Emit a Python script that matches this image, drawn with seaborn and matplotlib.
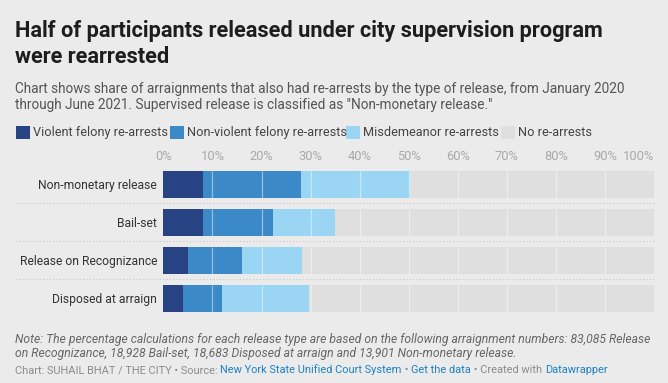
import matplotlib
matplotlib.use("Agg")
import matplotlib.pyplot as plt
from matplotlib.patches import Rectangle
import numpy as np
import pandas as pd
import seaborn as sns

categories = ["Non-monetary release", "Bail-set", "Release on Recognizance", "Disposed at arraign"]
violent = [8.1, 8.1, 5.0, 4.0]
nonviolent = [20.0, 14.3, 11.1, 8.0]
misdemeanor = [22.2, 12.6, 12.2, 17.7]
no_rearrest = [49.7, 65.0, 71.7, 70.3]
series_names = ["Violent felony re-arrests", "Non-violent felony re-arrests",
                "Misdemeanor re-arrests", "No re-arrests"]
colors = ["#274384", "#3b89c7", "#9ad6f3", "#dfdfdf"]
xticks = [0, 10, 20, 30, 40, 50, 60, 70, 80, 90, 100]
xtick_labels = [f"{t}%" for t in xticks]

BG = "#ebebeb"
W, H = 668, 383
sns.set_theme(style="white")
plt.rcParams["font.family"] = ["Roboto", "DejaVu Sans"]

fig = plt.figure(figsize=(W / 100, H / 100), dpi=100, facecolor=BG)

def fx(px):
    return px / W

def fy(py):
    return 1 - py / H

ax = fig.add_axes([fx(163.3), fy(317.5), fx(654.3) - fx(163.3), (317.5 - 165.3) / H])
ax.set_facecolor(BG)

df = pd.DataFrame({"cat": categories, "v": violent, "nv": nonviolent, "m": misdemeanor, "n": no_rearrest})
cums = np.cumsum(df[["v", "nv", "m", "n"]].values, axis=1)
for k in range(3, -1, -1):
    sns.barplot(x=cums[:, k], y=df["cat"], color=colors[k], width=0.71, orient="h",
                ax=ax, saturation=1, linewidth=0, zorder=2)

# faint gridlines over bars
for i in range(len(categories)):
    ax.vlines(xticks[1:-1], i - 0.355, i + 0.355, color="white", alpha=0.45, lw=0.9, zorder=3)
# dotted separators
for i in range(len(categories) - 1):
    ax.plot([-30, 100], [i + 0.5, i + 0.5], ls=(0, (1, 2)), color="#c8c8c8", lw=0.8,
            clip_on=False, zorder=1)

ax.set_xlim(0, 100)
ax.set_ylim(3.5, -0.5)
ax.set_xticks(xticks)
ax.set_xticklabels(xtick_labels)
ax.xaxis.tick_top()
ax.tick_params(axis="x", length=0, pad=2, labelsize=9.3, labelcolor="#a9a9a9")
ax.tick_params(axis="y", length=0, pad=4.5, labelsize=8.7, labelcolor="#333333")
ax.get_xticklabels()[-1].set_horizontalalignment("right")
ax.set_xlabel("")
ax.set_ylabel("")
for s in ax.spines.values():
    s.set_visible(False)

# Title and subtitle
fig.text(fx(15), fy(37.3), "Half of participants released under city supervision program",
         fontsize=15.7, fontweight="bold", color="#1d1d1d", va="baseline")
fig.text(fx(15), fy(63.3), "were rearrested", fontsize=15.7, fontweight="bold", color="#1d1d1d", va="baseline")
fig.text(fx(15), fy(93), "Chart shows share of arraignments that also had re-arrests by the type of release, from January 2020",
         fontsize=9.8, color="#555555", va="baseline")
fig.text(fx(15), fy(109), "through June 2021. Supervised release is classified as \"Non-monetary release.\"",
         fontsize=9.8, color="#555555", va="baseline")

# Legend
leg_x = [16, 170, 346, 501]
for x0, name, c in zip(leg_x, series_names, colors):
    fig.patches.append(Rectangle((fx(x0), fy(139)), 14 / W, 13 / H, transform=fig.transFigure,
                                 facecolor=c, edgecolor="none"))
    fig.text(fx(x0 + 17), fy(136.3), name, fontsize=9.2, color="#444444", va="baseline")

# Notes
fig.text(fx(15), fy(343), "Note: The percentage calculations for each release type are based on the following arraignment numbers: 83,085 Release",
         fontsize=8.75, style="italic", color="#666666", va="baseline")
fig.text(fx(15), fy(357), "on Recognizance, 18,928 Bail-set, 18,683 Disposed at arraign and 13,901 Non-monetary release.",
         fontsize=8.75, style="italic", color="#666666", va="baseline")

# Footer with mixed colors
parts = [("Chart: SUHAIL BHAT / THE CITY \u2022 Source: ", "#8c8c8c"),
         ("New York State Unified Court System", "#1d81c2"),
         (" \u2022 ", "#8c8c8c"),
         ("Get the data", "#1d81c2"),
         (" \u2022 Created with ", "#8c8c8c"),
         ("Datawrapper", "#1d81c2")]
renderer = fig.canvas.get_renderer()
x = fx(15)
for txt, c in parts:
    t = fig.text(x, fy(373), txt, fontsize=7.9, color=c, va="baseline")
    bb = t.get_window_extent(renderer=renderer)
    x += bb.width / W

fig.savefig("out.png", dpi=100, facecolor=BG)
